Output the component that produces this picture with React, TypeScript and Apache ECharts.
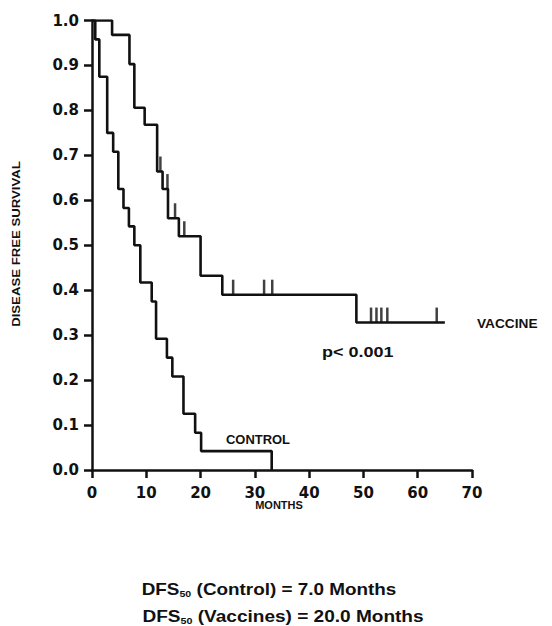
import React, { useEffect, useRef } from "react";
import * as echarts from "echarts";

// Kaplan–Meier steps (months, survival after the event)
const controlTimes = [0, 0.6, 1.35, 2.8, 3.9, 4.85, 5.8, 6.8, 7.8, 8.9, 11.0, 11.8, 13.8, 14.8, 16.85, 19.0, 20.1, 33.1];
const controlSurv = [1.0, 0.958, 0.875, 0.75, 0.708, 0.625, 0.583, 0.542, 0.5, 0.417, 0.375, 0.292, 0.25, 0.208, 0.125, 0.083, 0.042, 0.0];

const vaccineTimes = [0, 3.7, 6.9, 7.8, 9.7, 12.0, 13.0, 14.0, 16.0, 20.0, 24.0, 48.7, 65.0];
const vaccineSurv = [1.0, 0.968, 0.903, 0.806, 0.768, 0.664, 0.625, 0.56, 0.52, 0.432, 0.39, 0.328, 0.328];

const vaccineCensorTimes = [12.6, 13.9, 15.3, 17.0, 26.0, 31.7, 33.2, 51.4, 52.4, 53.3, 54.4, 63.5];
const vaccineCensorSurv = [0.664, 0.625, 0.56, 0.52, 0.39, 0.39, 0.39, 0.328, 0.328, 0.328, 0.328, 0.328];

const xTicks = [0, 10, 20, 30, 40, 50, 60, 70];
const yTicks = [0, 0.1, 0.2, 0.3, 0.4, 0.5, 0.6, 0.7, 0.8, 0.9, 1.0];

const FONT = "'Liberation Sans', Arial, Helvetica, sans-serif";
const AXFONT = "'DejaVu Sans', 'Liberation Sans', Arial, sans-serif";
const INK = "#111";

export default function App() {
  const ref = useRef<HTMLDivElement>(null);

  useEffect(() => {
    if (!ref.current) return;
    const chart = echarts.init(ref.current, undefined, { renderer: "svg" });

    const control = controlTimes.map((t, i) => [t, controlSurv[i]]);
    const vaccine = vaccineTimes.map((t, i) => [t, vaccineSurv[i]]);
    const censors = vaccineCensorTimes.map((t, i) => [t, vaccineCensorSurv[i]]);

    const axisCommon = {
      axisLine: { show: true, lineStyle: { color: INK, width: 2.5 } },
      axisTick: { show: true, inside: false, length: 8, lineStyle: { color: INK, width: 2.5 } },
      splitLine: { show: false },
      axisLabel: { color: INK, fontFamily: AXFONT, fontWeight: "bold" as const, fontSize: 15 },
    };

    const rich = {
      a: { fontFamily: FONT, fontWeight: "bold", fontSize: 16, fill: INK },
      s: { fontFamily: FONT, fontWeight: "bold", fontSize: 9, fill: INK, verticalAlign: "bottom" },
    };

    chart.setOption({
      animation: false,
      backgroundColor: "#fff",
      grid: { left: 92, right: 80, top: 20.5, bottom: 156 },
      xAxis: {
        type: "value",
        min: xTicks[0],
        max: xTicks[xTicks.length - 1],
        interval: 10,
        ...axisCommon,
        axisLabel: { ...axisCommon.axisLabel, margin: 15 },
      },
      yAxis: {
        type: "value",
        min: yTicks[0],
        max: yTicks[yTicks.length - 1],
        interval: 0.1,
        ...axisCommon,
        axisLabel: {
          ...axisCommon.axisLabel,
          margin: 13,
          formatter: (v: number) => v.toFixed(1),
        },
      },
      series: [
        {
          name: "CONTROL",
          type: "line",
          step: "end",
          data: control,
          showSymbol: false,
          lineStyle: { color: INK, width: 2.6 },
          z: 3,
        },
        {
          name: "VACCINE",
          type: "line",
          step: "end",
          data: vaccine,
          showSymbol: false,
          lineStyle: { color: INK, width: 2.6 },
          z: 3,
        },
        {
          name: "VACCINE censored",
          type: "scatter",
          data: censors,
          symbol: "rect",
          symbolSize: [2.5, 15],
          symbolOffset: [0, -7.5],
          itemStyle: { color: INK },
          z: 4,
        },
      ],
      graphic: [
        {
          type: "text",
          x: 16,
          y: 244,
          rotation: Math.PI / 2,
          scaleX: 1.2,
          style: {
            text: "DISEASE FREE SURVIVAL",
            font: `bold 11px ${FONT}`,
            fill: INK,
            align: "center",
            verticalAlign: "middle",
          },
        },
        {
          type: "text",
          x: 279,
          y: 505,
          scaleX: 1.1,
          style: {
            text: "MONTHS",
            font: `bold 10px ${FONT}`,
            fill: INK,
            align: "center",
            verticalAlign: "middle",
          },
        },
        {
          type: "text",
          x: 477,
          y: 324,
          scaleX: 1.14,
          style: {
            text: "VACCINE",
            font: `bold 12px ${FONT}`,
            fill: INK,
            align: "left",
            verticalAlign: "middle",
          },
        },
        {
          type: "text",
          x: 322,
          y: 352,
          scaleX: 1.2,
          style: {
            text: "p< 0.001",
            font: `bold 15px ${FONT}`,
            fill: INK,
            align: "left",
            verticalAlign: "middle",
          },
        },
        {
          type: "text",
          x: 226,
          y: 440,
          scaleX: 1.08,
          style: {
            text: "CONTROL",
            font: `bold 12px ${FONT}`,
            fill: INK,
            align: "left",
            verticalAlign: "middle",
          },
        },
        {
          type: "text",
          x: 269,
          y: 590,
          scaleX: 1.18,
          style: {
            text: "{a|DFS}{s|50}{a| (Control) = 7.0 Months}",
            align: "center",
            verticalAlign: "middle",
            rich,
          },
        },
        {
          type: "text",
          x: 283,
          y: 617,
          scaleX: 1.19,
          style: {
            text: "{a|DFS}{s|50}{a| (Vaccines) = 20.0 Months}",
            align: "center",
            verticalAlign: "middle",
            rich,
          },
        },
      ],
    });

    return () => chart.dispose();
  }, []);

  return (
    <div
      ref={ref}
      style={{ position: "absolute", left: 0, top: 0, width: 552, height: 626, background: "#fff" }}
    />
  );
}
